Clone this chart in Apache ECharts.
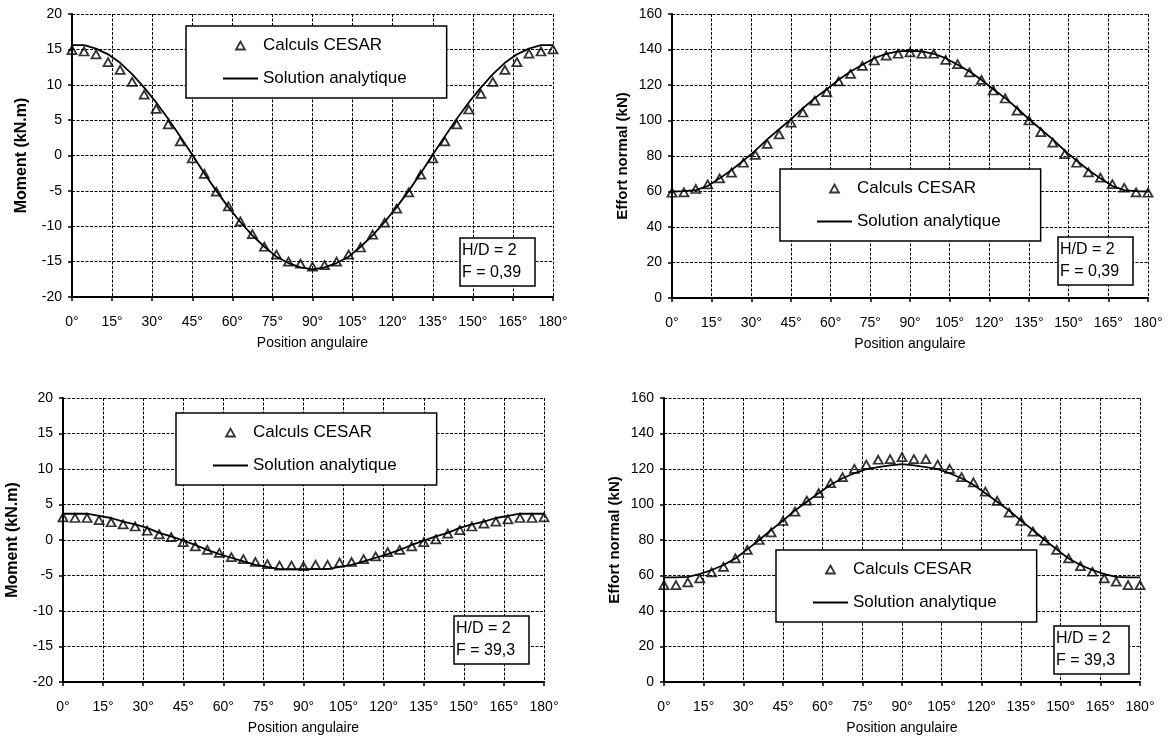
<!DOCTYPE html>
<html>
<head>
<meta charset="utf-8">
<script src="https://cdn.jsdelivr.net/npm/echarts@6/dist/echarts.min.js"></script>
<style>
html,body{margin:0;padding:0;background:#fff;}
#chart{width:1170px;height:740px;}
</style>
</head>
<body>
<div id="chart"></div>
<script>
// ---- Data ----
const angles = [0,4.5,9,13.5,18,22.5,27,31.5,36,40.5,45,49.5,54,58.5,63,67.5,72,76.5,81,85.5,90,
  94.5,99,103.5,108,112.5,117,121.5,126,130.5,135,139.5,144,148.5,153,157.5,162,166.5,171,175.5,180];

// Top-left: Moment, F = 0,39
const momentCesarF039 = [14.9,14.7,14.3,13.2,12.1,10.4,8.6,6.6,4.4,2.0,-0.4,-2.6,-5.1,-7.2,-9.3,-11.1,-12.9,-14.0,-15.0,-15.3,-15.7,
  -15.5,-15.0,-14.0,-13.0,-11.2,-9.5,-7.5,-5.2,-2.7,-0.4,2.0,4.4,6.5,8.7,10.4,12.1,13.2,14.4,14.7,15.0];
const momentAnalyticF039 = [15.6,15.6,15.1,14.3,13.1,11.5,9.6,7.5,5.2,2.7,0.1,-2.5,-5.0,-7.3,-9.4,-11.3,-12.9,-14.3,-15.2,-15.8,-16.1,
  -15.8,-15.2,-14.3,-12.9,-11.3,-9.4,-7.3,-5.0,-2.5,0.1,2.7,5.2,7.5,9.6,11.5,13.1,14.3,15.1,15.6,15.6];

// Top-right: Effort normal, F = 0,39
const normalCesarF039 = [59.3,59.5,61.4,64.0,67.4,70.6,76.2,80.6,86.8,92.2,98.8,104.5,111.2,116.0,122.0,126.3,130.8,133.8,136.5,137.6,138.4,
  137.6,137.6,134.2,131.8,127.1,122.9,116.9,112.4,105.6,100.0,93.4,87.5,81.1,76.2,70.8,67.8,64.2,62.1,59.5,59.3];
const normalAnalyticF039 = [60.0,60.2,60.8,63.1,67.4,72.1,77.4,83.0,89.4,95.1,100.7,106.9,112.6,117.6,122.9,127.6,131.4,135.1,137.6,138.9,139.3,
  138.9,137.6,135.1,131.4,127.6,122.9,117.6,112.6,106.9,100.7,95.1,89.4,83.0,77.4,72.1,67.4,63.1,60.8,60.2,60.0];

// Bottom-left: Moment, F = 39,3
const momentCesarF393 = [3.2,3.1,3.1,2.8,2.5,2.2,1.9,1.3,0.8,0.4,-0.3,-0.9,-1.4,-1.8,-2.4,-2.7,-3.1,-3.4,-3.6,-3.6,-3.7,
  -3.5,-3.5,-3.2,-3.1,-2.7,-2.3,-1.7,-1.4,-0.9,-0.3,0.1,0.9,1.4,1.9,2.3,2.6,2.9,3.1,3.1,3.2];
const momentAnalyticF393 = [3.7,3.7,3.7,3.4,3.1,2.6,2.2,1.7,1.0,0.5,-0.1,-0.7,-1.4,-2.0,-2.5,-3.0,-3.5,-3.8,-4.1,-4.1,-4.1,
  -4.1,-4.1,-3.8,-3.5,-3.0,-2.5,-2.0,-1.4,-0.7,-0.1,0.5,1.0,1.7,2.2,2.6,3.1,3.4,3.7,3.7,3.7];

// Bottom-right: Effort normal, F = 39,3
const normalCesarF393 = [54.6,54.6,56.1,58.4,61.8,64.9,69.6,74.4,80.0,84.3,90.7,96.0,102.2,106.4,112.0,115.4,120.1,122.4,125.2,125.6,126.7,
  125.6,125.6,122.4,120.1,115.4,112.4,107.3,102.0,95.4,90.7,84.7,79.6,74.4,69.6,65.3,62.1,58.4,56.5,54.6,54.6];
const normalAnalyticF393 = [58.9,58.9,59.2,60.8,63.1,65.9,69.6,74.7,80.0,85.6,90.9,96.6,101.6,106.4,111.1,114.8,117.6,119.9,121.0,122.0,122.7,
  122.0,121.0,119.9,117.6,114.8,111.1,106.4,101.6,96.6,90.9,85.6,80.0,74.7,69.6,65.9,63.1,60.8,59.2,58.9,58.9];

const seriesNames = ['Calculs CESAR', 'Solution analytique'];
const xAxisTitle = 'Position angulaire';
const yAxisTitles = ['Moment (kN.m)', 'Effort normal (kN)', 'Moment (kN.m)', 'Effort normal (kN)'];
const annotations = ['H/D = 2\nF = 0,39', 'H/D = 2\nF = 0,39', 'H/D = 2\nF = 39,3', 'H/D = 2\nF = 39,3'];
const angleTicks = [0,15,30,45,60,75,90,105,120,135,150,165,180];
const momentTicks = [-20,-15,-10,-5,0,5,10,15,20];
const normalTicks = [0,20,40,60,80,100,120,140,160];

// ---- Chart ----
const FONT = '"Liberation Sans", Arial, sans-serif';
const pairs = [
  [momentCesarF039, momentAnalyticF039, momentTicks],
  [normalCesarF039, normalAnalyticF039, normalTicks],
  [momentCesarF393, momentAnalyticF393, momentTicks],
  [normalCesarF393, normalAnalyticF393, normalTicks]
];
const grids = [
  {left:72, top:14, width:481, height:283},
  {left:672, top:14, width:476, height:284},
  {left:63, top:398, width:481, height:284},
  {left:664, top:398, width:476, height:284}
];
const legendPos = [[186,26],[780,169],[176,413],[776,550]];
const notePos = [[460,238],[1058,237],[454,616],[1054,626]];

const dash = {color:'#000', type:[3,1.5], width:1};
const TRI_ICON = 'path://M0,10L5.5,0L11,10Z';
const LINE_ICON = 'path://M0,0L35,0L35,2L0,2Z';

const option = {
  animation:false,
  backgroundColor:'#fff',
  grid: grids.map(g => Object.assign({containLabel:false}, g)),
  xAxis: grids.map((g,i) => ({
    type:'value', gridIndex:i,
    min:angleTicks[0], max:angleTicks[angleTicks.length-1], interval:angleTicks[1]-angleTicks[0],
    name:xAxisTitle, nameLocation:'middle', nameGap:39,
    nameTextStyle:{fontSize:14, color:'#000', fontFamily:FONT},
    axisLine:{onZero:false, lineStyle:{color:'#000', width:2}},
    axisTick:{show:true, length:4, lineStyle:{color:'#000', width:1.5}},
    axisLabel:{formatter:v => v + '°', margin:18, fontSize:14, color:'#000', fontFamily:FONT, showMaxLabel:true, showMinLabel:true},
    splitLine:{show:true, lineStyle:dash}
  })),
  yAxis: grids.map((g,i) => {
    const t = pairs[i][2];
    return {
      type:'value', gridIndex:i,
      min:t[0], max:t[t.length-1], interval:t[1]-t[0],
      name:yAxisTitles[i], nameLocation:'middle', nameGap:42, nameRotate:90,
      nameTextStyle:{fontSize:(i%2===0)?16:15, fontWeight:'bold', color:'#000', fontFamily:FONT},
      axisLine:{onZero:false, show:true, lineStyle:{color:'#000', width:2}},
      axisTick:{show:true, length:4, lineStyle:{color:'#000', width:1.5}},
      axisLabel:{margin:10, fontSize:14, color:'#000', fontFamily:FONT},
      splitLine:{show:true, lineStyle:dash}
    };
  }),
  legend: legendPos.map(p => ({
    left:p[0], top:p[1], orient:'vertical',
    itemWidth:35, itemHeight:8, itemGap:16,
    padding:[11,40,11,37],
    borderColor:'#000', borderWidth:1.5, backgroundColor:'#fff',
    selectedMode:false, symbolKeepAspect:true,
    textStyle:{fontSize:17, color:'#000', fontFamily:FONT},
    data:[
      {name:seriesNames[0], icon:TRI_ICON, itemStyle:{color:'rgba(255,255,255,0)', borderColor:'#000', borderWidth:1.8}},
      {name:seriesNames[1], icon:LINE_ICON, itemStyle:{color:'#000', borderWidth:0}}
    ]
  })),
  title: notePos.map((p,i) => ({
    text:annotations[i], left:p[0], top:p[1],
    padding:[2,14,2,2],
    borderColor:'#000', borderWidth:1.5, backgroundColor:'#fff',
    textStyle:{fontSize:16, lineHeight:22, fontWeight:'normal', color:'#000', fontFamily:FONT}
  })),
  series: []
};

pairs.forEach((pr, i) => {
  option.series.push({
    name:seriesNames[1], type:'line', xAxisIndex:i, yAxisIndex:i,
    data:angles.map((a,k) => [a, pr[1][k]]),
    symbol:'none', smooth:false,
    lineStyle:{color:'#000', width:1.8},
    itemStyle:{color:'#000'}, z:2
  });
  option.series.push({
    name:seriesNames[0], type:'scatter', xAxisIndex:i, yAxisIndex:i,
    data:angles.map((a,k) => [a, pr[0][k]]),
    symbol:'triangle', symbolSize:[9,8],
    itemStyle:{color:'rgba(255,255,255,0)', borderColor:'#000', borderWidth:1.8}, z:3
  });
});

const chart = echarts.init(document.getElementById('chart'), null, {renderer:'canvas'});
chart.setOption(option);
</script>
</body>
</html>
